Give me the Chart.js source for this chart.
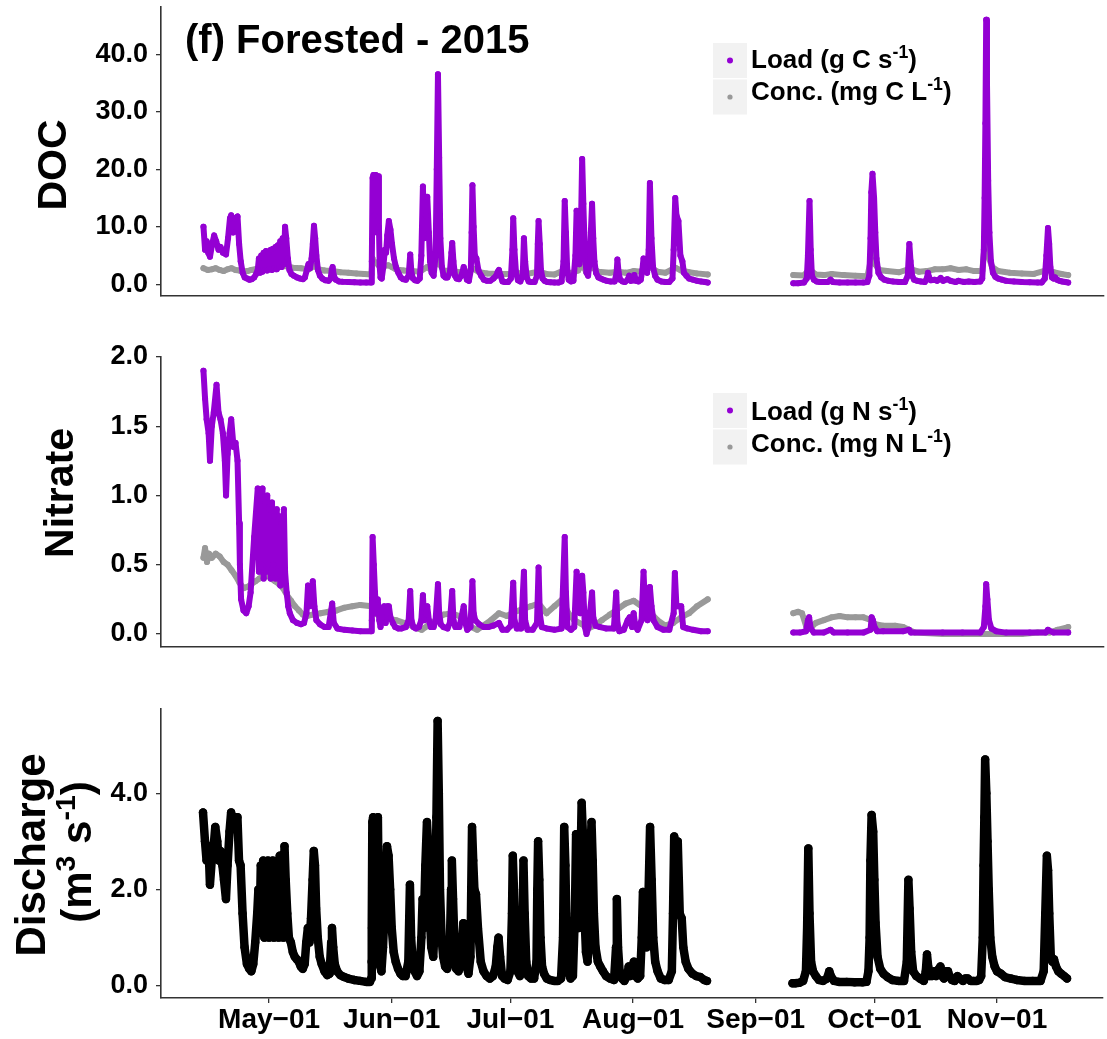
<!DOCTYPE html>
<html>
<head>
<meta charset="utf-8">
<script src="https://cdn.jsdelivr.net/npm/chart.js@4.4.1/dist/chart.umd.min.js"></script>
<style>
  body { margin: 0; background: #fff; }
  #wrap { position: relative; width: 1107px; height: 1039px; overflow: hidden; }
  .panel { position: absolute; left: 0; width: 1107px; }
  canvas { display: block; }
</style>
</head>
<body>
<div id="wrap">
  <div class="panel" style="top:0px;height:310px"><canvas id="docChart" width="1107" height="310"></canvas></div>
  <div class="panel" style="top:330px;height:330px"><canvas id="no3Chart" width="1107" height="330"></canvas></div>
  <div class="panel" style="top:680px;height:359px"><canvas id="qChart" width="1107" height="359"></canvas></div>
</div>
<script>
// days are counted from Apr-01 (= 0); null marks the Aug/Sep gap in the record
const monthDays = [30, 61, 91, 122, 153, 183, 214];
const monthLabels = ['May\u221201', 'Jun\u221201', 'Jul\u221201', 'Aug\u221201', 'Sep\u221201', 'Oct\u221201', 'Nov\u221201'];
const docTicks = [0, 10, 20, 30, 40];
const no3Ticks = [0, 0.5, 1, 1.5, 2];
const qTicks = [0, 2, 4];

// Discharge (m3 s-1)
const qPts = [
  [13.3,3.6],[13.8,3.0],[14.2,2.6],[14.7,2.9],[15.05,2.1],[15.5,2.6],[16.0,2.9],[16.4,3.3],[16.9,3.0],[17.3,2.6],
  [17.7,2.8],[18.2,2.5],[18.6,2.2],[19.1,1.8],[19.5,2.5],[20.0,3.2],[20.4,3.6],[20.9,3.3],[21.4,3.5],[22.0,3.5],
  [22.4,2.6],[22.8,2.5],[23.3,1.5],[23.8,0.8],[24.4,0.45],[25.0,0.35],[25.5,0.3],[26.0,0.45],[26.5,0.9],[27.0,1.5],
  [27.3,2.0],[27.6,1.1],[27.9,2.5],[28.2,1.2],[28.5,2.6],[28.8,1.0],[29.1,2.4],[29.4,1.1],[29.7,2.6],[30.0,1.0],
  [30.3,2.5],[30.6,1.2],[30.9,2.6],[31.2,1.0],[31.5,2.3],[31.8,1.1],[32.1,2.6],[32.4,1.0],[32.7,2.7],[33.0,1.2],
  [33.3,2.5],[33.6,1.0],[33.9,2.9],[34.2,2.2],[34.6,1.5],[35.0,1.0],[35.5,0.9],[36.0,0.7],[36.5,0.6],[37.0,0.55],
  [37.5,0.5],[38.0,0.4],[38.5,0.35],[39.0,0.45],[39.4,0.9],[39.8,1.2],[40.2,0.9],[40.6,1.4],[41.0,2.2],[41.3,2.8],
  [41.6,2.5],[41.9,1.6],[42.3,1.0],[42.8,0.6],[43.3,0.45],[44.0,0.3],[44.7,0.22],[45.3,0.25],[45.7,0.9],[45.9,1.2],
  [46.2,0.8],[46.6,0.45],[47.2,0.3],[48.0,0.22],[49.0,0.18],[50.0,0.15],[51.5,0.12],[53.0,0.1],[54.5,0.08],[55.5,0.08],
  [55.8,0.15],[55.9,0.5],[56.0,1.2],[56.1,3.4],[56.3,3.5],[56.6,2.2],[56.9,3.4],[57.2,1.5],[57.5,3.5],[57.7,2.0],
  [57.9,0.8],[58.1,0.4],[58.4,0.3],[58.8,0.8],[59.2,1.6],[59.5,2.2],[59.8,2.9],[60.2,2.7],[60.6,2.0],[61.0,1.2],
  [61.5,0.7],[62.0,0.5],[62.6,0.35],[63.2,0.25],[63.8,0.2],[64.5,0.2],[65.2,0.5],[65.6,2.1],[65.9,1.0],[66.3,0.5],
  [66.8,0.3],[67.4,0.2],[68.0,0.3],[68.5,1.0],[68.8,1.8],[69.1,1.2],[69.5,2.5],[69.9,3.4],[70.3,2.8],[70.6,1.5],
  [71.0,0.8],[71.5,0.6],[72.0,1.5],[72.3,3.5],[72.6,5.5],[72.9,4.0],[73.2,2.0],[73.6,1.0],[74.0,0.6],[74.5,0.4],
  [75.0,0.35],[75.6,0.5],[76.0,2.0],[76.2,2.6],[76.5,1.8],[76.9,0.8],[77.3,0.35],[77.9,0.3],[78.5,0.5],[79.1,1.3],
  [79.5,1.0],[79.9,0.4],[80.4,0.25],[80.9,0.6],[81.1,2.0],[81.3,3.3],[81.6,2.6],[81.9,2.0],[82.3,1.9],[82.8,1.2],
  [83.5,0.5],[84.2,0.3],[85.0,0.2],[85.8,0.15],[86.6,0.2],[87.3,0.4],[87.7,0.8],[88.0,1.0],[88.4,0.6],[88.9,0.2],
  [89.5,0.15],[90.3,0.12],[91.0,0.3],[91.4,1.5],[91.6,2.7],[91.9,2.0],[92.3,0.8],[92.8,0.3],[93.4,0.2],[94.0,0.4],
  [94.3,2.6],[94.6,1.5],[95.0,0.5],[95.5,0.2],[96.2,0.15],[97.0,0.15],[97.6,0.5],[97.8,2.0],[98.0,3.0],[98.3,2.2],
  [98.6,1.0],[99.0,0.4],[99.5,0.25],[100.2,0.15],[101.0,0.12],[102.0,0.1],[103.0,0.1],[103.8,0.15],[104.3,1.0],[104.6,3.3],
  [104.9,2.5],[105.2,1.0],[105.6,0.3],[106.2,0.15],[106.8,0.2],[107.3,1.5],[107.6,3.15],[107.9,2.0],[108.3,1.2],[108.7,2.4],
  [109.0,3.8],[109.3,3.2],[109.7,1.5],[110.1,0.7],[110.5,0.5],[110.9,1.2],[111.2,2.6],[111.5,3.4],[111.8,2.6],[112.1,1.5],
  [112.5,0.8],[113.1,0.5],[113.7,0.4],[114.4,0.3],[115.2,0.2],[116.2,0.15],[117.2,0.12],[117.7,0.8],[117.9,1.8],[118.2,0.8],
  [118.6,0.3],[119.2,0.15],[119.8,0.1],[120.5,0.2],[120.9,0.4],[121.3,0.2],[121.9,0.25],[122.2,0.5],[122.6,0.2],[123.2,0.15],
  [123.8,0.2],[124.2,1.0],[124.5,1.95],[124.9,1.2],[125.4,0.8],[125.8,1.5],[126.3,3.3],[126.7,2.2],[127.1,1.0],[127.6,0.5],
  [128.2,0.3],[129.0,0.15],[130.0,0.12],[131.0,0.12],[131.8,0.3],[132.1,1.5],[132.4,3.1],[132.8,2.7],[133.3,3.0],[133.8,1.5],
  [134.3,1.4],[134.7,0.8],[135.3,0.5],[136.0,0.35],[137.0,0.25],[138.0,0.2],[139.0,0.18],[140.0,0.12],[140.7,0.1],
  [150,null],
  [162.3,0.05],[163.0,0.05],[164.0,0.06],[165.0,0.1],[165.7,0.3],[166.0,1.2],[166.3,2.85],[166.6,1.5],[167.0,0.5],[167.5,0.3],
  [168.2,0.2],[169.0,0.12],[170.0,0.1],[171.0,0.15],[171.6,0.3],[172.0,0.2],[172.8,0.1],[174.0,0.08],[176.0,0.08],[178.0,0.07],
  [180.0,0.07],[181.0,0.08],[181.5,0.3],[181.8,1.0],[182.0,2.6],[182.3,3.55],[182.7,3.2],[183.0,2.2],[183.3,1.3],[183.8,0.6],
  [184.5,0.35],[185.3,0.25],[186.3,0.18],[187.5,0.12],[189.0,0.1],[190.5,0.1],[191.2,0.5],[191.6,2.2],[191.9,1.6],[192.3,0.7],
  [192.8,0.3],[193.6,0.2],[194.5,0.15],[195.5,0.1],[196.0,0.3],[196.3,0.65],[196.6,0.4],[197.0,0.2],[197.6,0.2],[198.2,0.3],
  [198.6,0.2],[199.3,0.35],[199.7,0.4],[200.1,0.2],[200.6,0.15],[201.2,0.3],[201.6,0.3],[202.0,0.2],[202.6,0.12],[203.3,0.1],
  [204.0,0.2],[204.6,0.15],[205.4,0.1],[206.0,0.15],[206.6,0.15],[207.3,0.1],[208.0,0.1],[208.8,0.1],[209.5,0.12],[210.0,0.2],
  [210.4,1.0],[210.6,2.5],[210.8,3.5],[211.0,4.7],[211.3,4.0],[211.6,3.0],[211.9,2.0],[212.3,1.0],[212.8,0.6],[213.4,0.4],
  [214.0,0.3],[215.0,0.25],[216.0,0.18],[217.5,0.15],[219.0,0.12],[221.0,0.1],[223.0,0.1],[225.0,0.1],[225.8,0.3],[226.2,1.5],
  [226.6,2.7],[226.9,2.4],[227.2,1.5],[227.6,0.6],[228.0,0.5],[228.4,0.55],[228.9,0.4],[229.5,0.3],[230.2,0.25],[231.0,0.2],
  [231.7,0.15]
];

// DOC load (g C s-1)
const docLoadPts = [
  [13.4,10.0],[13.8,6.0],[14.2,7.5],[14.6,5.5],[15.05,4.8],[15.6,7.0],[16.1,8.5],[16.6,7.5],[17.2,6.0],[17.7,6.5],
  [18.3,5.5],[19.1,5.2],[19.6,8.0],[20.1,11.5],[20.4,12.0],[20.9,9.0],[21.4,11.5],[22.0,11.8],[22.4,7.0],[22.8,4.0],
  [23.3,2.0],[23.8,1.2],[24.4,1.0],[25.0,0.8],[25.6,0.9],[26.2,1.2],[26.7,1.8],[27.1,2.5],[27.4,4.5],[27.7,2.0],
  [28.0,5.0],[28.3,2.2],[28.6,5.5],[28.9,2.5],[29.2,5.8],[29.5,2.4],[29.8,5.5],[30.1,2.6],[30.4,6.0],[30.7,2.5],
  [31.0,6.2],[31.3,2.8],[31.6,6.5],[31.9,2.6],[32.2,6.8],[32.5,3.0],[32.8,7.5],[33.1,3.0],[33.4,8.0],[33.7,3.5],
  [34.0,10.0],[34.3,8.0],[34.7,4.5],[35.1,2.5],[35.6,1.8],[36.2,1.5],[37.0,1.2],[37.8,1.0],[38.5,0.9],[39.0,1.2],
  [39.5,2.5],[39.9,3.5],[40.3,2.8],[40.7,4.5],[41.0,7.0],[41.3,10.2],[41.6,8.0],[41.9,5.0],[42.3,2.5],[42.8,1.5],
  [43.4,1.0],[44.2,0.7],[45.0,0.6],[45.5,1.0],[45.8,2.5],[46.0,3.0],[46.3,1.5],[46.8,0.8],[47.6,0.5],[48.5,0.45],
  [50.0,0.4],[51.5,0.35],[53.0,0.3],[54.5,0.3],[55.7,0.3],[55.9,4.0],[56.1,18.5],[56.3,19.0],[56.6,12.0],[56.9,19.0],
  [57.2,9.0],[57.5,18.8],[57.7,10.0],[57.9,3.0],[58.1,1.2],[58.4,1.0],[58.8,3.0],[59.2,6.0],[59.5,5.5],[59.8,8.5],
  [60.2,11.0],[60.6,9.5],[61.0,7.0],[61.5,4.5],[62.0,3.0],[62.6,2.0],[63.2,1.2],[63.8,0.9],[64.5,0.8],[65.2,1.5],
  [65.6,5.2],[65.9,2.0],[66.3,1.0],[66.8,0.7],[67.4,0.6],[68.0,1.0],[68.4,5.0],[68.8,17.0],[69.1,8.0],[69.5,12.0],
  [69.9,15.2],[70.3,9.0],[70.6,4.0],[71.0,2.0],[71.5,1.5],[72.0,5.0],[72.3,20.0],[72.6,36.5],[72.9,22.0],[73.2,8.0],
  [73.6,3.0],[74.0,1.5],[74.5,1.2],[75.0,1.2],[75.6,2.0],[76.0,5.5],[76.2,7.2],[76.5,4.0],[76.9,1.5],[77.3,1.0],
  [77.9,0.9],[78.5,1.5],[79.1,3.0],[79.5,2.0],[79.9,0.8],[80.4,0.6],[80.9,2.5],[81.1,9.0],[81.3,17.2],[81.6,10.0],
  [81.9,5.0],[82.3,4.5],[82.8,2.5],[83.5,1.5],[84.2,0.8],[85.0,0.6],[85.8,0.6],[86.6,1.0],[87.3,1.5],[87.7,2.2],
  [88.0,2.5],[88.4,1.5],[88.9,0.5],[89.5,0.4],[90.3,0.4],[91.0,1.0],[91.4,6.0],[91.6,11.5],[91.9,6.0],[92.3,2.0],
  [92.8,0.7],[93.4,0.5],[94.0,1.5],[94.3,8.0],[94.6,4.0],[95.0,1.2],[95.5,0.5],[96.2,0.4],[97.0,0.4],[97.6,1.5],
  [97.8,7.0],[98.0,11.0],[98.3,7.0],[98.6,2.5],[99.0,1.0],[99.5,0.6],[100.2,0.4],[101.0,0.35],[102.0,0.3],[103.0,0.3],
  [103.8,0.5],[104.3,4.0],[104.6,14.5],[104.9,9.0],[105.2,3.0],[105.6,0.8],[106.2,0.5],[106.8,0.6],[107.3,5.0],[107.6,12.8],
  [107.9,6.0],[108.3,3.5],[108.7,10.0],[109.0,21.8],[109.3,14.0],[109.7,5.0],[110.1,2.0],[110.5,1.5],[110.9,4.0],[111.2,9.0],
  [111.5,14.0],[111.8,8.0],[112.1,4.0],[112.5,2.0],[113.1,1.2],[113.7,1.0],[114.4,0.8],[115.2,0.6],[116.2,0.5],[117.2,0.5],
  [117.7,2.0],[117.9,4.3],[118.2,2.0],[118.6,0.8],[119.2,0.5],[119.8,0.4],[120.5,0.8],[120.9,1.5],[121.3,0.6],[121.9,0.7],
  [122.2,1.6],[122.6,0.6],[123.2,0.5],[123.8,0.8],[124.2,2.5],[124.5,4.5],[124.9,3.0],[125.4,2.0],[125.8,6.0],[126.1,17.6],
  [126.5,8.0],[126.9,3.0],[127.4,1.5],[128.0,0.8],[129.0,0.5],[130.0,0.4],[131.0,0.4],[131.8,1.0],[132.1,6.0],[132.5,15.0],
  [132.8,12.0],[133.3,11.0],[133.8,5.0],[134.3,4.0],[134.7,2.0],[135.3,1.5],[136.0,1.0],[137.0,0.8],[138.0,0.6],[139.0,0.5],
  [140.0,0.4],[140.7,0.3],
  [150,null],
  [162.3,0.2],[163.5,0.2],[165.0,0.3],[165.7,1.0],[166.0,5.0],[166.4,14.5],[166.7,6.0],[167.0,1.5],[167.5,0.8],[168.2,0.5],
  [169.0,0.4],[171.0,0.4],[171.7,0.8],[172.3,0.4],[174.0,0.3],[176.0,0.3],[178.0,0.3],[180.0,0.3],[181.0,0.4],[181.5,1.5],
  [181.8,8.0],[182.0,16.0],[182.3,19.2],[182.7,15.0],[183.0,9.0],[183.3,4.5],[183.8,2.0],[184.5,1.2],[185.3,0.8],[186.3,0.6],
  [187.5,0.5],[189.0,0.4],[190.5,0.4],[191.2,1.5],[191.6,7.0],[191.9,4.0],[192.3,1.5],[192.8,0.8],[193.6,0.6],[194.5,0.5],
  [195.5,0.4],[196.0,1.0],[196.3,2.0],[196.6,1.2],[197.0,0.7],[198.0,0.8],[198.6,0.6],[199.5,1.1],[200.1,0.6],[201.2,0.9],
  [202.0,0.6],[203.3,0.4],[204.0,0.6],[205.4,0.4],[206.6,0.5],[208.0,0.4],[209.5,0.5],[210.0,1.0],[210.4,6.0],[210.6,15.0],
  [210.8,28.0],[211.0,46.0],[211.2,35.0],[211.5,18.0],[211.8,9.0],[212.2,4.0],[212.7,2.0],[213.3,1.3],[214.0,1.0],[215.0,0.8],
  [216.0,0.6],[218.0,0.5],[220.0,0.4],[222.0,0.35],[224.0,0.3],[225.0,0.3],[225.8,1.0],[226.2,5.0],[226.6,9.8],[226.9,7.0],
  [227.2,3.0],[227.6,1.2],[228.0,1.0],[228.4,1.2],[228.9,0.8],[229.5,0.6],[230.2,0.5],[231.0,0.4],[231.7,0.3]
];

// DOC concentration (mg C L-1)
const docConcPts = [
  [13.4,2.8],[14.5,2.5],[15.5,2.6],[16.5,2.8],[17.5,2.5],[18.5,2.3],[19.5,2.6],[20.5,2.8],[21.5,2.5],[22.5,2.4],
  [23.5,2.2],[24.5,2.3],[25.5,2.5],[27,2.7],[28.5,2.9],[30,2.8],[31.5,3.0],[33,3.1],[34,3.2],[35,3.0],
  [36,2.9],[38,2.8],[40,2.6],[41.3,3.2],[42.5,2.6],[44,2.4],[46,2.3],[48,2.1],[50,2.0],[52,1.9],
  [54,1.8],[55.8,1.7],[56.1,4.5],[56.4,3.6],[57,3.8],[58,3.0],[60,3.3],[61,3.0],[62,2.6],[64,2.4],
  [66,2.3],[68,2.2],[69.9,3.0],[71,2.4],[72.6,4.0],[74,2.4],[76,2.3],[78,2.1],[80,2.0],[81.3,2.8],
  [83,2.1],[85,1.9],[88,1.8],[91,1.8],[91.6,2.5],[93,1.9],[95,1.8],[98,2.2],[100,1.8],[102,1.7],
  [104.6,2.5],[106,1.9],[108,2.4],[109,3.5],[110,2.2],[111.5,3.0],[113,2.2],[116,2.0],[118,2.2],[120,2.0],
  [122,2.3],[124,2.2],[126.1,3.0],[128,2.2],[130,2.0],[132.5,2.9],[134,2.4],[136,2.1],[138,1.9],[140.7,1.7],
  [150,null],
  [162.3,1.6],[165,1.55],[166.4,2.6],[168,1.7],[170,1.6],[172,1.8],[175,1.6],[178,1.5],[181,1.4],[182.3,5.5],
  [183,3.5],[184,2.5],[186,2.3],[189,2.1],[191.7,2.7],[194,2.2],[196,2.3],[198,2.6],[200,2.6],[202,2.8],
  [204,2.5],[206,2.6],[208,2.3],[210,2.3],[211,9.5],[211.5,5.0],[212.5,3.0],[214,2.3],[217,2.0],[220,1.9],
  [223,1.8],[226.6,2.5],[228,2.1],[230,1.8],[231.7,1.6]
];

// Nitrate load (g N s-1)
const no3LoadPts = [
  [13.4,1.9],[13.8,1.7],[14.2,1.55],[14.7,1.45],[15.05,1.25],[15.5,1.5],[16.0,1.6],[16.7,1.8],[17.2,1.6],[17.7,1.55],
  [18.3,1.45],[18.8,1.25],[19.1,1.0],[19.5,1.3],[20.0,1.45],[20.4,1.55],[21.0,1.35],[21.5,1.38],[22.0,1.25],[22.4,0.8],
  [22.6,0.5],[22.9,0.25],[23.5,0.17],[24.2,0.15],[24.8,0.2],[25.3,0.3],[26.2,0.7],[27.1,1.05],[27.4,0.45],[27.7,1.0],
  [28.0,0.5],[28.3,1.05],[28.6,0.4],[28.9,0.95],[29.2,0.45],[29.5,1.0],[29.8,0.5],[30.1,0.9],[30.4,0.4],[30.7,0.95],
  [31.0,0.5],[31.3,0.85],[31.6,0.4],[31.9,0.9],[32.2,0.45],[32.5,0.85],[32.8,0.35],[33.1,0.8],[33.4,0.4],[33.7,0.9],
  [34.0,0.45],[34.4,0.3],[34.8,0.2],[35.2,0.15],[36.0,0.1],[37.0,0.08],[38.0,0.07],[38.8,0.08],[39.4,0.15],[39.8,0.35],
  [40.2,0.2],[40.6,0.25],[41.0,0.38],[41.4,0.2],[41.9,0.1],[42.8,0.07],[44.0,0.05],[45.0,0.05],[45.9,0.22],[46.3,0.08],
  [47.2,0.04],[49.0,0.03],[51.0,0.025],[53.0,0.02],[55.7,0.02],[55.9,0.1],[56.1,0.7],[56.4,0.5],[56.7,0.3],[57.0,0.15],
  [57.4,0.25],[57.8,0.1],[58.1,0.05],[58.5,0.12],[59.0,0.2],[59.4,0.08],[59.8,0.2],[60.2,0.2],[60.6,0.12],[61.2,0.08],
  [61.8,0.05],[62.6,0.04],[63.4,0.04],[64.5,0.05],[65.2,0.1],[65.6,0.31],[65.9,0.1],[66.4,0.05],[67.0,0.04],[67.8,0.05],
  [68.4,0.1],[68.8,0.28],[69.1,0.1],[69.5,0.15],[69.9,0.2],[70.3,0.1],[70.8,0.05],[71.5,0.05],[72.0,0.1],[72.6,0.36],
  [72.9,0.15],[73.3,0.07],[74.0,0.05],[75.0,0.04],[75.6,0.08],[76.2,0.31],[76.5,0.1],[77.0,0.05],[78.0,0.05],[79.1,0.2],
  [79.5,0.08],[80.0,0.03],[80.8,0.05],[81.3,0.38],[81.6,0.15],[82.0,0.1],[83.0,0.07],[84.2,0.05],[85.3,0.05],[86.5,0.06],
  [88.0,0.08],[88.9,0.03],[90.0,0.03],[91.0,0.06],[91.6,0.37],[91.9,0.1],[92.5,0.04],[93.6,0.04],[94.3,0.45],[94.6,0.1],
  [95.2,0.03],[96.5,0.03],[97.6,0.08],[98.0,0.48],[98.3,0.15],[98.8,0.05],[100.0,0.04],[102.0,0.03],[103.8,0.04],[104.6,0.7],
  [104.9,0.3],[105.3,0.05],[106.2,0.03],[107.0,0.05],[107.6,0.45],[107.9,0.2],[108.5,0.15],[109.0,0.42],[109.3,0.3],[109.7,0.05],
  [110.1,0.0],[110.6,0.05],[111.5,0.3],[111.8,0.12],[112.4,0.06],[113.5,0.05],[115.0,0.04],[117.0,0.04],[117.6,0.3],[117.9,0.08],
  [118.4,0.02],[119.5,0.03],[120.5,0.1],[121.0,0.12],[121.6,0.05],[122.0,0.15],[122.4,0.06],[123.0,0.03],[124.0,0.1],[124.5,0.45],
  [124.9,0.15],[125.5,0.1],[126.1,0.34],[126.5,0.2],[127.0,0.1],[128.0,0.05],[129.5,0.03],[131.0,0.03],[132.1,0.15],[132.4,0.44],
  [132.8,0.2],[133.3,0.2],[134.0,0.2],[134.5,0.05],[135.5,0.04],[137.0,0.03],[139.0,0.02],[140.7,0.02],
  [150,null],
  [162.3,0.01],[164.0,0.01],[165.5,0.02],[166.0,0.1],[166.3,0.12],[166.7,0.04],[167.5,0.01],[170.0,0.01],[171.7,0.03],[172.5,0.01],
  [176.0,0.01],[180.0,0.01],[181.8,0.03],[182.1,0.12],[182.4,0.1],[182.8,0.05],[183.5,0.02],[185.0,0.02],[190.0,0.02],[191.5,0.03],
  [192.0,0.01],[200.0,0.01],[205.0,0.01],[209.5,0.01],[210.4,0.05],[210.8,0.2],[211.0,0.36],[211.3,0.25],[211.7,0.1],[212.3,0.04],
  [213.5,0.02],[216.0,0.01],[222.0,0.01],[226.0,0.01],[226.6,0.03],[228.0,0.01],[231.7,0.01]
];

// Nitrate concentration (mg N L-1)
const no3ConcPts = [
  [13.4,0.55],[13.8,0.62],[14.3,0.52],[14.8,0.58],[15.5,0.55],[16.5,0.58],[17.5,0.56],[18.5,0.52],[19.5,0.5],[20.5,0.46],
  [21.5,0.42],[22.5,0.37],[23.5,0.33],[24.5,0.34],[25.5,0.36],[26.5,0.38],[27.5,0.4],[28.5,0.42],[29.5,0.42],[30.5,0.4],
  [31.5,0.38],[32.5,0.36],[33.5,0.33],[34.5,0.28],[35.5,0.24],[36.5,0.2],[37.5,0.17],[38.5,0.14],[39.5,0.13],[41,0.14],
  [43,0.15],[45,0.16],[47,0.17],[49,0.19],[51,0.2],[53,0.21],[55.8,0.2],[56.5,0.15],[58,0.13],[60,0.11],
  [62,0.1],[64,0.08],[66,0.06],[67.5,0.04],[68.5,0.03],[70,0.06],[72,0.1],[74,0.14],[76,0.15],[78,0.13],
  [79.5,0.08],[81,0.05],[82.5,0.03],[84,0.06],[86,0.1],[88,0.15],[90,0.13],[92,0.16],[94,0.18],[96,0.2],
  [98,0.22],[100,0.15],[102,0.2],[104,0.25],[105.5,0.15],[107,0.1],[109,0.07],[110.5,0.04],[112,0.06],[114,0.1],
  [116,0.14],[118,0.18],[120,0.22],[122,0.24],[124,0.2],[126,0.16],[128,0.1],[130,0.06],[132,0.08],[134,0.12],
  [136,0.15],[138,0.2],[140.7,0.25],
  [150,null],
  [162.3,0.15],[163.5,0.16],[164.5,0.15],[165.5,0.06],[166.5,0.04],[168,0.08],[170,0.1],[172,0.12],[174,0.13],[176,0.12],
  [178,0.12],[180,0.12],[182,0.1],[183,0.07],[185,0.06],[188,0.06],[190,0.05],[191.5,0.03],[193,0.01],[200,0.0],
  [210,0.0],[220,0.0],[224,0.01],[227,0.01],[229,0.03],[231.7,0.05]
];

const X_MIN = 2.68, X_MAX = 240.74;
const FONT = '"Liberation Sans", Arial, Helvetica, sans-serif';
const AXIS = '#333333';
const PURPLE = 'rgb(148,0,211)';
const GREY = 'rgb(153,153,153)';

function pts(list) {
  return list.map(p => ({ x: p[0], y: p[1] }));
}

function series(list, color, width, radius) {
  return {
    data: pts(list),
    borderColor: color,
    backgroundColor: color,
    borderWidth: width,
    pointRadius: radius,
    pointBorderWidth: 0,
    pointHoverRadius: radius,
    spanGaps: false,
    tension: 0
  };
}

function makeOptions(yMin, yMax, yTicks, padTop, xHeight, showX) {
  return {
    responsive: false,
    animation: false,
    events: [],
    layout: { padding: { top: padTop, left: 0, right: 0, bottom: 0 } },
    plugins: { legend: { display: false }, tooltip: { enabled: false } },
    elements: { line: { borderJoinStyle: 'round', borderCapStyle: 'round' } },
    scales: {
      x: {
        type: 'linear',
        min: X_MIN,
        max: X_MAX,
        afterBuildTicks: s => { s.ticks = monthDays.map(v => ({ value: v })); },
        afterFit: s => { s.height = xHeight; s.paddingLeft = 0; s.paddingRight = 0; },
        grid: { display: showX, drawOnChartArea: false, tickLength: 5, color: AXIS, lineWidth: 1.3 },
        border: { display: true, color: AXIS, width: 1.6 },
        ticks: {
          display: showX, autoSkip: false, maxRotation: 0, padding: 0, color: '#000',
          font: { family: FONT, size: 28, weight: 'bold' },
          callback: v => monthLabels[monthDays.indexOf(v)]
        }
      },
      y: {
        min: yMin,
        max: yMax,
        afterBuildTicks: s => { s.ticks = yTicks.map(v => ({ value: v })); },
        // keep the plot box where the reference has it
        afterFit: s => { s.width = 161; s.paddingTop = 0; s.paddingBottom = 0; },
        grid: { drawOnChartArea: false, tickLength: 5, color: AXIS, lineWidth: 1.3 },
        border: { display: true, color: AXIS, width: 1.6 },
        ticks: {
          padding: 8, color: '#000',
          font: { family: FONT, size: 27, weight: 'bold' },
          callback: v => v.toFixed(1)
        }
      }
    }
  };
}

// text made of normal and superscript pieces
function runsWidth(ctx, runs, size) {
  let w = 0;
  runs.forEach(r => {
    ctx.font = 'bold ' + (r.sup ? size * 0.68 : size) + 'px ' + FONT;
    w += ctx.measureText(r.t).width;
  });
  return w;
}

function drawRuns(ctx, runs, x, y, size) {
  let cx = x;
  ctx.fillStyle = '#000';
  ctx.textBaseline = 'alphabetic';
  ctx.textAlign = 'left';
  runs.forEach(r => {
    const s = r.sup ? size * 0.68 : size;
    ctx.font = 'bold ' + s + 'px ' + FONT;
    ctx.fillText(r.t, cx, r.sup ? y - size * 0.38 : y);
    cx += ctx.measureText(r.t).width;
  });
}

function drawYTitle(ctx, runs, baseX, centerY, size) {
  ctx.save();
  ctx.translate(baseX, centerY);
  ctx.rotate(-Math.PI / 2);
  const w = runsWidth(ctx, runs, size);
  drawRuns(ctx, runs, -w / 2, 0, size);
  ctx.restore();
}

function drawLegend(ctx, labels, top, textBase) {
  const colors = [PURPLE, GREY];
  const radii = [3, 2.6];
  labels.forEach((runs, i) => {
    const y0 = top + i * 36.5;
    ctx.fillStyle = '#f2f2f2';
    ctx.fillRect(713, y0, 34, 35);
    ctx.beginPath();
    ctx.fillStyle = colors[i];
    ctx.arc(730, y0 + 17.5, radii[i], 0, Math.PI * 2);
    ctx.fill();
    drawRuns(ctx, runs, 751, textBase[i], 26);
  });
}

const docLegend = [
  [{ t: 'Load (g C s' }, { t: '-1', sup: true }, { t: ')' }],
  [{ t: 'Conc. (mg C L' }, { t: '-1', sup: true }, { t: ')' }]
];
const no3Legend = [
  [{ t: 'Load (g N s' }, { t: '-1', sup: true }, { t: ')' }],
  [{ t: 'Conc. (mg N L' }, { t: '-1', sup: true }, { t: ')' }]
];

function decor(draw) {
  return {
    id: 'decor',
    afterDraw: chart => {
      const ctx = chart.ctx;
      ctx.save();
      draw(ctx);
      ctx.restore();
    }
  };
}

// --- DOC panel ---
new Chart(document.getElementById('docChart'), {
  type: 'line',
  data: {
    datasets: [
      series(docLoadPts, PURPLE, 6, 3),
      series(docConcPts, GREY, 6, 3)
    ]
  },
  options: makeOptions(-2.03, 48.2, docTicks, 7, 14, false),
  plugins: [decor(ctx => {
    ctx.fillStyle = '#000';
    ctx.font = 'bold 40px ' + FONT;
    ctx.textBaseline = 'alphabetic';
    ctx.fillText('(f) Forested - 2015', 185, 53);
    drawYTitle(ctx, [{ t: 'DOC' }], 65.5, 165, 41);
    drawLegend(ctx, docLegend, 43, [68.3, 100]);
  })]
});

// --- Nitrate panel ---
new Chart(document.getElementById('no3Chart'), {
  type: 'line',
  data: {
    datasets: [
      series(no3LoadPts, PURPLE, 6, 3),
      series(no3ConcPts, GREY, 6, 3)
    ]
  },
  options: makeOptions(-0.094, 2.0, no3Ticks, 27, 13, false),
  plugins: [decor(ctx => {
    drawYTitle(ctx, [{ t: 'Nitrate' }], 72.5, 163, 41);
    drawLegend(ctx, no3Legend, 63, [90, 121.7]);
  })]
});

// --- Discharge panel ---
new Chart(document.getElementById('qChart'), {
  type: 'line',
  data: {
    datasets: [
      series(qPts, '#000000', 8.5, 4.2)
    ]
  },
  options: makeOptions(-0.255, 5.75, qTicks, 29, 41, true),
  plugins: [decor(ctx => {
    drawYTitle(ctx, [{ t: 'Discharge' }], 45, 175, 42);
    drawYTitle(ctx, [{ t: '(m' }, { t: '3', sup: true }, { t: ' s' }, { t: '-1', sup: true }, { t: ')' }], 91, 172, 42);
  })]
});
</script>
</body>
</html>
